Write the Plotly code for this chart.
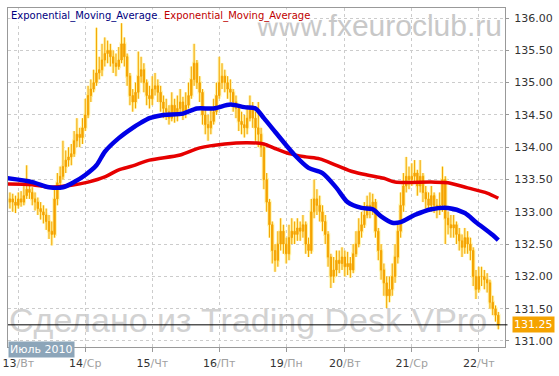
import plotly.graph_objects as go

# ---------------- data ----------------
bar_index = list(range(-3, 173))

opens = [133.15, 133.2, 133.15, 133.1,
         133.2, 133.15, 133.25, 133.35, 133.3, 133.2, 133.15, 133.05, 133.0, 132.95, 132.85, 132.7,
         132.65, 133.2, 133.45, 133.55, 133.7, 133.8, 133.85, 133.9, 134.1, 134.2, 134.15, 134.3,
         134.5, 134.8, 134.9, 135.0, 135.15, 135.2, 135.35, 135.45, 135.5, 135.4, 135.3, 135.25,
         135.35, 135.6, 135.4, 135.1, 134.8, 134.7, 134.85, 135.1, 135.2, 135.0, 134.8, 134.75,
         134.9, 134.95, 134.85, 134.7, 134.6, 134.55, 134.45, 134.65, 134.5, 134.6, 134.7, 134.55,
         134.65, 134.8, 135.05, 135.3, 135.0, 134.85, 134.5, 134.35, 134.3, 134.4, 134.55, 134.8,
         135.0, 135.1, 135.0, 134.9, 134.85, 134.7, 134.6, 134.4, 134.35, 134.3, 134.45, 134.6,
         134.45, 134.3, 134.2, 134.0, 133.5, 133.15, 132.8, 132.4, 132.25, 132.5, 132.7, 132.5,
         132.35, 132.6, 132.7, 132.65, 132.75, 132.7, 132.8, 132.5, 132.4, 133.0, 133.2, 133.1,
         133.0, 132.85, 132.65, 132.3, 132.0, 132.1, 132.25, 132.2, 132.3, 132.15, 132.2, 132.1,
         132.35, 132.5, 132.7, 132.8, 132.95, 133.1, 133.05, 133.15, 132.7, 132.4, 132.1, 131.9,
         131.7, 131.8, 132.0, 132.3, 132.7, 133.1, 133.4, 133.55, 133.5, 133.55, 133.6, 133.4,
         133.55, 133.3, 133.2, 133.1, 133.25, 133.1, 133.05, 133.1, 133.5, 132.9, 132.8, 132.75,
         132.8, 132.65, 132.55, 132.45, 132.6, 132.5, 132.4, 132.0, 131.8, 132.0, 132.0, 131.95,
         131.9, 131.6, 131.5, 131.4]

closes = [133.2, 133.15, 133.1, 133.2,
          133.15, 133.25, 133.35, 133.3, 133.2, 133.15, 133.05, 133.0, 132.95, 132.85, 132.7, 132.65,
          133.2, 133.45, 133.55, 133.7, 133.8, 133.85, 133.9, 134.1, 134.2, 134.15, 134.3, 134.5,
          134.8, 134.9, 135.0, 135.15, 135.2, 135.35, 135.45, 135.5, 135.4, 135.3, 135.25, 135.35,
          135.6, 135.4, 135.1, 134.8, 134.7, 134.85, 135.1, 135.2, 135.0, 134.8, 134.75, 134.9,
          134.95, 134.85, 134.7, 134.6, 134.55, 134.45, 134.65, 134.5, 134.6, 134.7, 134.55, 134.65,
          134.8, 135.05, 135.3, 135.0, 134.85, 134.5, 134.35, 134.3, 134.4, 134.55, 134.8, 135.0,
          135.1, 135.0, 134.9, 134.85, 134.7, 134.6, 134.4, 134.35, 134.3, 134.45, 134.6, 134.45,
          134.3, 134.2, 134.0, 133.5, 133.15, 132.8, 132.4, 132.25, 132.5, 132.7, 132.5, 132.35,
          132.6, 132.7, 132.65, 132.75, 132.7, 132.8, 132.5, 132.4, 133.0, 133.2, 133.1, 133.0,
          132.85, 132.65, 132.3, 132.0, 132.1, 132.25, 132.2, 132.3, 132.15, 132.2, 132.1, 132.35,
          132.5, 132.7, 132.8, 132.95, 133.1, 133.05, 133.15, 132.7, 132.4, 132.1, 131.9, 131.7,
          131.8, 132.0, 132.3, 132.7, 133.1, 133.4, 133.55, 133.5, 133.55, 133.6, 133.4, 133.55,
          133.3, 133.2, 133.1, 133.25, 133.1, 133.05, 133.1, 133.5, 132.9, 132.8, 132.75, 132.8,
          132.65, 132.55, 132.45, 132.6, 132.5, 132.4, 132.0, 131.8, 132.0, 132.0, 131.95, 131.9,
          131.6, 131.5, 131.4, 131.25]

highs = [133.3, 133.28, 133.25, 133.3,
         133.32, 133.4, 133.72, 133.5, 133.38, 133.3, 133.22, 133.15, 133.1, 133.05, 132.95, 132.85,
         133.35, 133.6, 133.7, 134.1, 133.95, 134.0, 134.05, 134.25, 134.45, 134.3, 134.45, 134.75,
         134.95, 135.05, 135.2, 135.85, 135.4, 135.6, 135.7, 135.65, 135.6, 135.5, 135.45, 135.55,
         135.92, 135.7, 135.45, 135.15, 134.9, 135.0, 135.48, 135.4, 135.3, 135.05, 134.95, 135.1,
         135.15, 135.05, 134.95, 134.8, 134.75, 134.65, 134.85, 134.75, 134.8, 134.9, 134.78, 134.85,
         135.0, 135.25, 135.6, 135.35, 135.1, 134.9, 134.6, 134.5, 134.6, 134.75, 135.0, 135.4,
         135.3, 135.2, 135.1, 135.05, 134.9, 134.8, 134.65, 134.55, 134.5, 134.65, 134.8, 134.7,
         134.55, 134.7, 134.3, 134.05, 133.6, 133.2, 132.85, 132.5, 132.7, 132.9, 132.8, 132.6,
         132.8, 132.9, 132.85, 132.9, 132.85, 132.95, 132.85, 132.6, 133.2, 133.5, 133.35, 133.25,
         133.1, 132.95, 132.7, 132.35, 132.3, 132.4, 132.4, 132.45, 132.4, 132.38, 132.3, 132.5,
         132.7, 132.9, 133.0, 133.15, 133.25, 133.3, 133.28, 133.2, 132.75, 132.5, 132.2, 132.0,
         132.0, 132.2, 132.5, 132.85, 133.3, 133.6, 133.85, 133.7, 133.75, 133.8, 133.65, 133.8,
         133.6, 133.4, 133.3, 133.4, 133.3, 133.2, 133.3, 133.7, 133.55, 133.0, 132.95, 132.95,
         132.85, 132.75, 132.65, 132.75, 132.7, 132.6, 132.45, 132.1, 132.15, 132.15, 132.1, 132.05,
         131.95, 131.7, 131.55, 131.45]

lows = [133.05, 133.0, 132.98, 133.05,
        133.08, 133.1, 133.2, 133.2, 133.1, 133.02, 132.95, 132.88, 132.82, 132.72, 132.58, 132.48,
        132.6, 133.1, 133.35, 133.5, 133.6, 133.7, 133.72, 133.85, 134.0, 134.0, 134.05, 134.25,
        134.45, 134.7, 134.85, 134.95, 135.05, 135.1, 135.25, 135.3, 135.25, 135.15, 135.1, 135.2,
        135.3, 135.25, 134.95, 134.65, 134.55, 134.6, 134.75, 135.0, 134.85, 134.65, 134.6, 134.65,
        134.8, 134.7, 134.55, 134.45, 134.42, 134.35, 134.4, 134.38, 134.4, 134.5, 134.42, 134.45,
        134.6, 134.75, 134.95, 134.9, 134.7, 134.35, 134.2, 134.1, 134.2, 134.35, 134.5, 134.75,
        134.9, 134.85, 134.75, 134.7, 134.55, 134.45, 134.25, 134.2, 134.15, 134.2, 134.4, 134.3,
        134.1, 134.0, 133.85, 133.35, 133.0, 132.6, 132.2, 132.07, 132.15, 132.4, 132.35, 132.2,
        132.25, 132.5, 132.5, 132.55, 132.55, 132.6, 132.35, 132.3, 132.35, 132.9, 132.95, 132.85,
        132.7, 132.5, 132.15, 131.82, 131.9, 132.0, 132.05, 132.1, 132.0, 132.02, 131.98, 132.05,
        132.3, 132.45, 132.6, 132.75, 132.9, 132.9, 132.95, 132.6, 132.25, 131.95, 131.7, 131.51,
        131.6, 131.7, 131.9, 132.2, 132.6, 133.0, 133.3, 133.35, 133.4, 133.45, 133.25, 133.3,
        133.15, 133.05, 133.0, 133.0, 132.98, 132.9, 132.95, 133.0, 132.5, 132.65, 132.6, 132.6,
        132.5, 132.4, 132.3, 132.35, 132.35, 132.25, 131.85, 131.65, 131.75, 131.85, 131.8, 131.75,
        131.5, 131.4, 131.3, 131.18]

ema_fast_x = [-4, 5, 11, 16, 20, 24, 28, 31, 36, 41, 44, 47, 52, 59, 64, 70, 76, 81, 85, 88,
              92, 96, 99, 104, 109, 114, 118, 123, 127, 130, 134, 137, 142, 148, 154, 160, 164, 170, 172]
ema_fast_y = [133.52, 133.46, 133.38, 133.38, 133.46, 133.57, 133.72, 133.93, 134.14, 134.3,
              134.38, 134.45, 134.5, 134.52, 134.6, 134.6, 134.66, 134.62, 134.6, 134.45,
              134.24, 134.03, 133.88, 133.68, 133.6, 133.37, 133.15, 133.06, 133.04, 132.93,
              132.83, 132.84, 132.95, 133.04, 133.06, 132.98, 132.84, 132.64, 132.56]

ema_slow_x = [-4, 5, 11, 19, 25, 31, 36, 41, 47, 58, 65, 74, 82, 88, 92, 97, 103, 108, 114,
              120, 125, 131, 135, 148, 154, 161, 168, 172]
ema_slow_y = [133.43, 133.42, 133.38, 133.41, 133.46, 133.54, 133.65, 133.71, 133.8, 133.88,
              133.99, 134.05, 134.07, 134.05, 133.98, 133.9, 133.85, 133.82, 133.72, 133.62,
              133.57, 133.52, 133.46, 133.46, 133.45, 133.37, 133.29, 133.21]

day_ticks = [0, 24, 48, 72, 96, 117, 141, 165]
day_nums = ["13", "14", "15", "16", "19", "20", "21", "22"]
day_names = ["Вт", "Ср", "Чт", "Пт", "Пн", "Вт", "Ср", "Чт"]
y_ticks = [131.0, 131.5, 132.0, 132.5, 133.0, 133.5, 134.0, 134.5, 135.0, 135.5, 136.0]
last_price = 131.25
series_names = ["Exponential_Moving_Average", "Exponential_Moving_Average"]

# ---------------- style ----------------
ORANGE = "#f5a300"
HALO = "#fff4a8"
FONT = "DejaVu Sans"

fig = go.Figure()

fig.add_trace(go.Candlestick(
    x=bar_index, open=opens, high=highs, low=lows, close=closes,
    increasing=dict(line=dict(color=HALO, width=3), fillcolor=HALO),
    decreasing=dict(line=dict(color=HALO, width=3), fillcolor=HALO),
    whiskerwidth=0, hoverinfo="skip", showlegend=False))
fig.add_trace(go.Candlestick(
    x=bar_index, open=opens, high=highs, low=lows, close=closes,
    increasing=dict(line=dict(color=ORANGE, width=1), fillcolor=ORANGE),
    decreasing=dict(line=dict(color=ORANGE, width=1), fillcolor=ORANGE),
    whiskerwidth=0, hoverinfo="skip", showlegend=False))

fig.add_trace(go.Scatter(x=ema_slow_x, y=ema_slow_y, mode="lines",
                         line=dict(color="#e60000", width=3.5, shape="spline", smoothing=0.8),
                         hoverinfo="skip", showlegend=False))
fig.add_trace(go.Scatter(x=ema_fast_x, y=ema_fast_y, mode="lines",
                         line=dict(color="#0000e6", width=4.5, shape="spline", smoothing=0.8),
                         hoverinfo="skip", showlegend=False))

ticktext = [f"{n}<span style='color:#a0a0a0'>/{w}</span>" for n, w in zip(day_nums, day_names)]

axis_common = dict(showgrid=True, gridcolor="#cccccc", griddash="3px,3px", gridwidth=1,
                   showline=True, linecolor="#999999", linewidth=1, mirror=True,
                   tickcolor="#999999", zeroline=False, fixedrange=True, automargin=False,
                   tickfont=dict(family=FONT, size=11, color="#333333"))

fig.update_layout(
    template="none",
    width=559, height=376,
    margin=dict(l=8, r=54, t=8, b=29, pad=0),
    paper_bgcolor="white", plot_bgcolor="white",
    font=dict(family=FONT, size=11, color="#333333"),
    showlegend=False,
    xaxis=dict(range=[-3.69, 174.4], rangeslider=dict(visible=False),
               tickvals=day_ticks, ticktext=ticktext, ticklabelstandoff=2,
               ticks="outside", ticklen=4, **axis_common),
    yaxis=dict(range=[130.907, 136.155], side="right",
               tickvals=y_ticks, tickformat=".2f", ticklabelstandoff=3,
               ticks="outside", ticklen=3, **axis_common),
)

# watermarks (drawn beneath the traces)
fig.add_shape(type="rect", xref="paper", yref="paper",
              x0=0.5, x1=1.0, y0=1 - 27 / 339, y1=1 - 1 / 339,
              line=dict(width=0), fillcolor="rgba(0,0,0,0)", layer="between",
              label=dict(text="www.fxeuroclub.ru", textposition="middle right", padding=0,
                         xanchor="right",
                         font=dict(family="Liberation Sans", size=30, color="#c8c8c8")))
fig.add_shape(type="rect", xref="paper", yref="paper",
              x0=-0.004, x1=1.0, y0=(347 - 340) / 339, y1=(347 - 294) / 339,
              line=dict(width=0), fillcolor="rgba(0,0,0,0)", layer="between",
              label=dict(text="Сделано из Trading Desk VPro", textposition="middle left", padding=0,
                         xanchor="left",
                         font=dict(family="Liberation Sans", size=34, color="#d2d2d2")))

# last price line
fig.add_shape(type="line", xref="paper", yref="y", x0=0, x1=1.005,
              y0=last_price, y1=last_price, line=dict(color="black", width=1), layer="above")

# series names at top
fig.add_annotation(xref="paper", yref="paper", x=(10 - 8) / 497, y=1 - (16.5 - 8) / 339,
                   xanchor="left", yanchor="middle", showarrow=False,
                   text=series_names[0], font=dict(family=FONT, size=10, color="#000080"),
                   bgcolor="white", borderpad=0)
fig.add_annotation(xref="paper", yref="paper", x=(163 - 8) / 497, y=1 - (16.5 - 8) / 339,
                   xanchor="left", yanchor="middle", showarrow=False,
                   text=series_names[1], font=dict(family=FONT, size=10, color="#c00000"),
                   bgcolor="white", borderpad=0)

# month badge
fig.add_annotation(xref="paper", yref="paper", x=0, y=-(349.5 - 347) / 339,
                   xanchor="left", yanchor="middle", showarrow=False,
                   text="Июль 2010", font=dict(family=FONT, size=11, color="white"),
                   bgcolor="#8ca5b9", borderpad=1)

# last price badge
fig.add_annotation(xref="paper", yref="y", x=(512 - 8) / 497, y=last_price,
                   xanchor="left", yanchor="middle", showarrow=False,
                   text=f"{last_price:.2f}", font=dict(family=FONT, size=11, color="white"),
                   bgcolor="#f5a300", borderpad=1)

fig.write_html("out.html", config={"displayModeBar": False},
               post_script="document.body.style.margin='0';")
